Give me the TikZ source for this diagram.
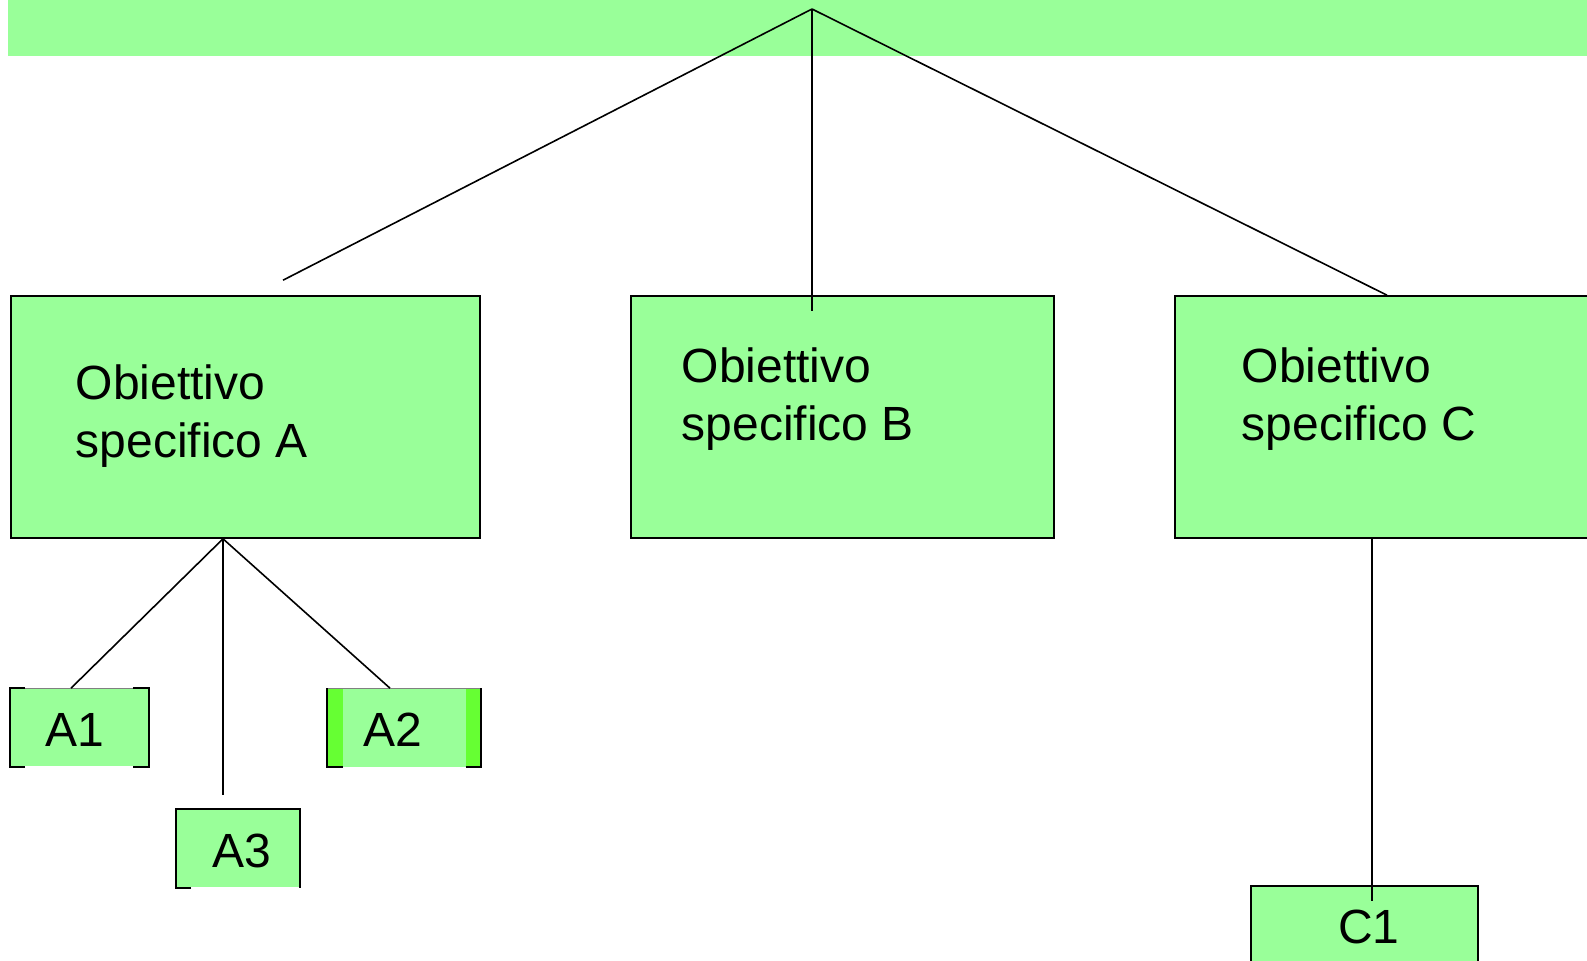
\documentclass[tikz,border=0pt]{standalone}
\usepackage{fontspec}
\setmainfont{Liberation Sans}
\definecolor{paleGreen}{HTML}{99FF99}
\definecolor{limeGreen}{HTML}{66FF33}

\begin{document}
\begin{tikzpicture}[x=0.5pt,y=-0.5pt,line width=0.8pt]
\tikzstyle{every node}+=[inner sep=0pt]
\tikzstyle{goal}=[draw=black, fill=paleGreen, minimum height=121pt]
\tikzstyle{task}=[fill=paleGreen, minimum height=38.5pt]
\tikzstyle{txt}=[font=\fontsize{24}{29}\selectfont, align=left]
\tikzstyle{hair}=[gray, line width=0.4pt]

\useasboundingbox (0,0) rectangle (1587,960);
\clip (0,0) rectangle (1587,960);

% general objective bar
\fill[paleGreen] (8,0) rectangle (1587,56);
\coordinate (top) at (812,9);

% specific objectives
\node[goal, minimum width=234.5pt] (objA) at (245.5,417) {};
\node[goal, minimum width=211.5pt] (objB) at (842.5,417) {};
\node[goal, minimum width=222.5pt] (objC) at (1397.5,417) {};
\node[txt, anchor=north west] (txtA) at (75,364) {Obiettivo\\specifico A};
\node[txt, anchor=north west] (txtB) at (681,347) {Obiettivo\\specifico B};
\node[txt, anchor=north west] (txtC) at (1241,347) {Obiettivo\\specifico C};

% activities under A
\node[task, minimum width=68.5pt] (a1) at (79.5,727.5) {};
\draw[hair] (a1.north west) -- (a1.north east);
\draw (a1.north west) ++(15,0) -- (a1.north west) -- (a1.south west) -- ++(15,0);
\draw (a1.north east) ++(-16,0) -- (a1.north east) -- (a1.south east) -- ++(-16,0);

\node[task, fill=limeGreen, minimum width=76pt] (a2) at (404,727.5) {};
\fill[paleGreen] ([xshift=8pt]a2.north west) rectangle ([xshift=-7.5pt]a2.south east);
\draw[hair] (a2.north west) -- (a2.north east);
\draw (a2.south west) ++(16,0) -- (a2.south west) -- (a2.north west);
\draw (a2.south east) ++(-15,0) -- (a2.south east) -- (a2.north east);

\node[task, minimum width=61pt] (a3) at (238,848.5) {};
\draw (a3.south west) ++(15,0) -- (a3.south west) |- (a3.north east) -- (a3.south east);

% activity under C
\node[task, draw=black, minimum width=113.5pt, minimum height=52pt] (c1) at (1364.5,938) {};

\node[txt] (t1) at (75,730) {A1};
\node[txt] (t2) at (393,730) {A2};
\node[txt] (t3) at (242,851) {A3};
\node[txt] (t4) at (1369,927) {C1};

% tree lines
\draw (top) -- ([xshift=18.75pt,yshift=7.5pt]objA.north);
\draw (top) -- ([xshift=-15.25pt,yshift=-8pt]objB.north);
\draw (top) -- ([xshift=-5.25pt]objC.north);
\draw ([xshift=-11.25pt]objA.south) -- ([xshift=-4.25pt]a1.north);
\draw ([xshift=-11.25pt]objA.south) -- ([xshift=-7pt]a2.north);
\draw ([xshift=-11.25pt]objA.south) -- ([xshift=-7.5pt,yshift=7pt]a3.north);
\draw ([xshift=-12.75pt]objC.south) -- ([xshift=3.75pt,yshift=-8pt]c1.north);
\end{tikzpicture}
\end{document}
